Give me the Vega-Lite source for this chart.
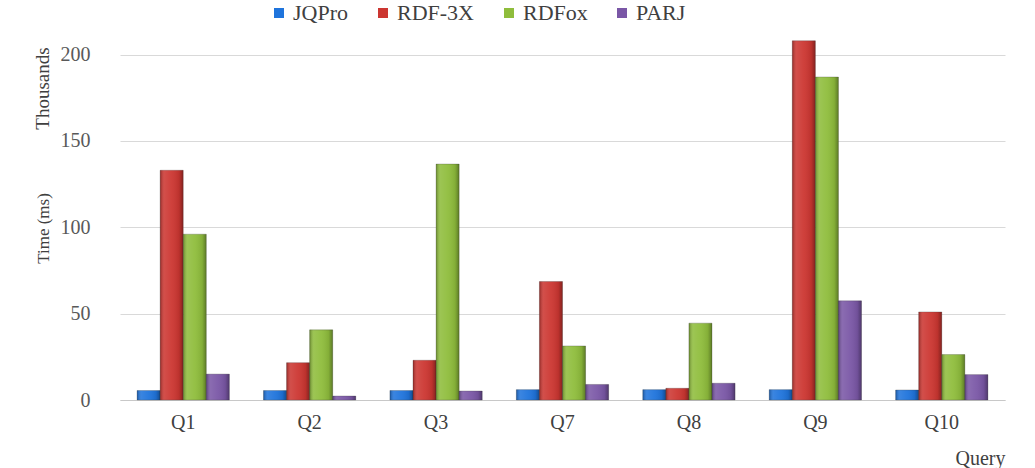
{
  "$schema": "https://vega.github.io/schema/vega-lite/v6.json",
  "width": 885,
  "height": 380,
  "autosize": {"type": "none"},
  "padding": {"left": 120, "top": 20, "right": 30, "bottom": 68},
  "background": "white",
  "config": {
    "font": "Liberation Serif",
    "axis": {"labelFont": "Liberation Serif", "titleFont": "Liberation Serif"},
    "legend": {"labelFont": "Liberation Serif", "titleFont": "Liberation Serif"},
    "view": {"stroke": null}
  },
  "data": {
    "values": [
      {"query": "Q1", "system": "JQPro", "time": 5.5},
      {"query": "Q1", "system": "RDF-3X", "time": 133},
      {"query": "Q1", "system": "RDFox", "time": 96},
      {"query": "Q1", "system": "PARJ", "time": 15},
      {"query": "Q2", "system": "JQPro", "time": 5.5},
      {"query": "Q2", "system": "RDF-3X", "time": 21.6},
      {"query": "Q2", "system": "RDFox", "time": 40.6},
      {"query": "Q2", "system": "PARJ", "time": 2.3},
      {"query": "Q3", "system": "JQPro", "time": 5.5},
      {"query": "Q3", "system": "RDF-3X", "time": 23},
      {"query": "Q3", "system": "RDFox", "time": 136.6},
      {"query": "Q3", "system": "PARJ", "time": 5.2},
      {"query": "Q7", "system": "JQPro", "time": 6},
      {"query": "Q7", "system": "RDF-3X", "time": 68.6},
      {"query": "Q7", "system": "RDFox", "time": 31.3},
      {"query": "Q7", "system": "PARJ", "time": 9},
      {"query": "Q8", "system": "JQPro", "time": 6},
      {"query": "Q8", "system": "RDF-3X", "time": 6.8},
      {"query": "Q8", "system": "RDFox", "time": 44.5},
      {"query": "Q8", "system": "PARJ", "time": 9.7},
      {"query": "Q9", "system": "JQPro", "time": 6},
      {"query": "Q9", "system": "RDF-3X", "time": 208},
      {"query": "Q9", "system": "RDFox", "time": 187},
      {"query": "Q9", "system": "PARJ", "time": 57.4},
      {"query": "Q10", "system": "JQPro", "time": 5.8},
      {"query": "Q10", "system": "RDF-3X", "time": 51},
      {"query": "Q10", "system": "RDFox", "time": 26.3},
      {"query": "Q10", "system": "PARJ", "time": 14.7}
    ]
  },
  "encoding": {
    "x": {
      "field": "query",
      "type": "nominal",
      "sort": ["Q1", "Q2", "Q3", "Q7", "Q8", "Q9", "Q10"],
      "scale": {"paddingInner": 0.27, "paddingOuter": 0.135},
      "axis": {
        "title": "Query",
        "titleAnchor": "end",
        "titleFontSize": 20,
        "titleFontWeight": "normal",
        "titleColor": "#404040",
        "titleBaseline": "alphabetic",
        "titleY": 64,
        "labelAngle": 0,
        "labelFontSize": 20,
        "labelColor": "#404040",
        "labelPadding": 12,
        "ticks": false,
        "domainColor": "#c8c8c8",
        "grid": false
      }
    },
    "xOffset": {"field": "system", "sort": ["JQPro", "RDF-3X", "RDFox", "PARJ"]}
  },
  "layer": [
    {
      "mark": {"type": "bar", "stroke": "#3a3a3a", "strokeOpacity": 0.35, "strokeWidth": 0.8},
      "encoding": {
        "y": {
          "field": "time",
          "type": "quantitative",
          "scale": {"domain": [0, 220], "nice": false},
          "axis": {
            "orient": "left",
            "title": "Time (ms)",
            "values": [0, 50, 100, 150, 200],
            "titleFontSize": 17,
            "titleFontWeight": "normal",
            "titleColor": "#404040",
            "titleX": -77,
            "titleY": 208,
            "titleAlign": "center",
            "titleBaseline": "middle",
            "labelFontSize": 20,
            "labelColor": "#595959",
            "labelPadding": 30,
            "ticks": false,
            "domain": false,
            "gridColor": "#d9d9d9"
          }
        },
        "color": {
          "field": "system",
          "type": "nominal",
          "sort": ["JQPro", "RDF-3X", "RDFox", "PARJ"],
          "scale": {
            "domain": ["JQPro", "RDF-3X", "RDFox", "PARJ"],
            "range": ["#1f74dc", "#cc3631", "#8fbd3c", "#7a57a6"]
          },
          "legend": {
            "title": null,
            "orient": "none",
            "direction": "horizontal",
            "legendX": 148,
            "legendY": -18,
            "padding": 0,
            "symbolType": "square",
            "symbolSize": 100,
            "symbolStrokeWidth": 0,
            "labelFontSize": 22,
            "labelColor": "#404040",
            "labelOffset": 3,
            "columnPadding": 23
          }
        }
      }
    },
    {
      "mark": {
        "type": "bar",
        "fill": {
          "gradient": "linear",
          "x1": 0, "x2": 1, "y1": 0, "y2": 0,
          "stops": [
            {"offset": 0, "color": "rgba(0,0,0,0.28)"},
            {"offset": 0.18, "color": "rgba(255,255,255,0.12)"},
            {"offset": 0.5, "color": "rgba(255,255,255,0.05)"},
            {"offset": 0.82, "color": "rgba(0,0,0,0.08)"},
            {"offset": 1, "color": "rgba(0,0,0,0.35)"}
          ]
        }
      },
      "encoding": {
        "y": {
          "field": "time",
          "type": "quantitative",
          "scale": {"domain": [0, 220], "nice": false},
          "axis": null
        }
      }
    },
    {
      "mark": {"type": "tick", "opacity": 0},
      "encoding": {
        "y": {
          "field": "time",
          "type": "quantitative",
          "scale": {"domain": [0, 220], "nice": false},
          "axis": {
            "orient": "left",
            "title": "Thousands",
            "titleFontSize": 19,
            "titleFontWeight": "normal",
            "titleColor": "#404040",
            "titleX": -78,
            "titleY": 68,
            "titleAlign": "center",
            "titleBaseline": "middle",
            "labels": false,
            "ticks": false,
            "domain": false,
            "grid": false
          }
        }
      }
    }
  ],
  "resolve": {"axis": {"y": "independent"}}
}
